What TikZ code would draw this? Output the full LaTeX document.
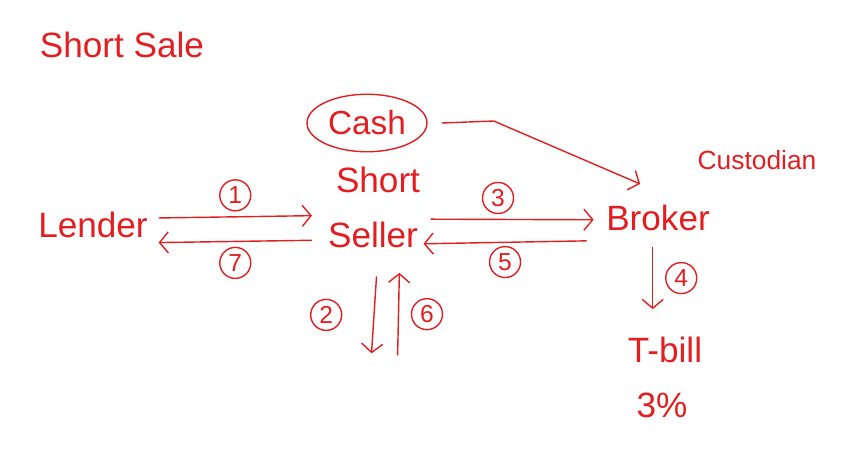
\documentclass[tikz,border=0pt]{standalone}
\usepackage{fontspec}
\setmainfont{Liberation Sans}
\usetikzlibrary{arrows.meta,shapes.geometric}
\definecolor{pen}{RGB}{228,30,32}
\tikzset{
  word/.style={text=pen, inner sep=1pt, font=\fontsize{20}{24}\selectfont},
  num/.style={circle, draw=pen, text=pen, thick, inner sep=1.2pt, minimum size=0.62cm, font=\fontsize{14}{16}\selectfont},
  arr/.style={draw=pen, thick, -{Straight Barb[length=5pt,width=12pt]}}
}
\begin{document}
\begin{tikzpicture}
\useasboundingbox (0,0) rectangle (17,-9.32);
\node[word] (title) at (2.44,-0.9) {Short Sale};
\node[word, ellipse, draw=pen, thick, minimum width=2.4cm, minimum height=1.15cm, font=\fontsize{19}{22}\selectfont] (cash) at (7.34,-2.46) {Cash};
\node[word] (short) at (7.56,-3.6) {Short};
\node[word] (seller) at (7.46,-4.7) {Seller};
\node[word] (lender) at (1.86,-4.5) {Lender};
\node[word] (broker) at (13.16,-4.36) {Broker};
\node[word, font=\fontsize{15}{18}\selectfont] (cust) at (15.14,-3.2) {Custodian};
\node[word] (tbill) at (13.3,-7.0) {T-bill};
\node[word] (pct) at (13.24,-8.1) {3\%};
\draw[arr] ([xshift=5pt,yshift=4pt]lender.east) -- node[num, above=3pt] (n1) {1} ([xshift=-8pt,yshift=11pt]seller.west);
\draw[arr] ([xshift=-8pt,yshift=-3pt]seller.west) -- node[num, below=3pt] (n7) {7} ([xshift=5pt,yshift=-10pt]lender.east);
\draw[arr] ([xshift=6pt,yshift=9pt]seller.east) -- node[num, above=3pt, xshift=-8pt] (n3) {3} ([xshift=-6pt,yshift=-1pt]broker.west);
\draw[arr] ([xshift=-10pt,yshift=-13pt]broker.west) -- node[num, below=2pt] (n5) {5} ([xshift=2pt,yshift=-5pt]seller.east);
\draw[arr] ([xshift=2pt,yshift=-15pt]seller.south) -- node[num, left=18pt] (n2) {2} ++(-0.1,-1.54);
\draw[arr] ([xshift=14pt,yshift=-60pt]seller.south) -- node[num, right=7pt] (n6) {6} ([xshift=15pt,yshift=-13pt]seller.south);
\draw[arr] ([xshift=-3pt,yshift=-8pt]broker.south) -- node[num, right=7pt] (n4) {4} ++(0,-1.24);
\draw[arr] ([xshift=8pt]cash.east) -- ++(1.04,0.04) -- ([xshift=0.72cm,yshift=0.38cm]broker.north west);
\end{tikzpicture}
\end{document}
